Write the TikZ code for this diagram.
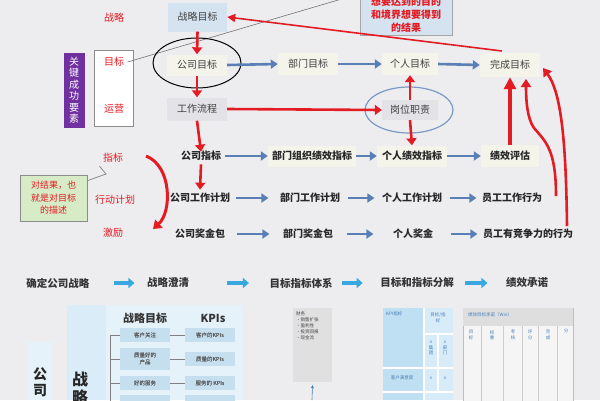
\documentclass[tikz,border=0pt]{standalone}
\usepackage{fontspec}
\setmainfont{Noto Sans CJK SC}
\usetikzlibrary{arrows.meta,shapes.geometric}
\definecolor{bg}{HTML}{EDEDF0}
\definecolor{rd}{HTML}{E31B23}
\definecolor{bl}{HTML}{5A7FB5}
\definecolor{boxf}{HTML}{F4F4EA}
\definecolor{grayf}{HTML}{E3E3E7}
\definecolor{lblue}{HTML}{D5E3F1}
\definecolor{purp}{HTML}{7030A0}
\definecolor{cy}{HTML}{3AA8E0}
\definecolor{gfill}{HTML}{D6EBC6}
\definecolor{pan}{HTML}{D9ECF8}
\definecolor{pan2}{HTML}{E5F2FA}
\definecolor{cell}{HTML}{C6DFEF}
\definecolor{tb}{HTML}{BFDFF2}
\definecolor{tb2}{HTML}{D7ECF8}
\definecolor{tinyc}{HTML}{4A7FB8}
\tikzset{
  f10/.style={font=\fontsize{10}{12}\selectfont},
  box/.style={fill=boxf, minimum height=22pt, inner xsep=4pt, f10, text=black!75},
  rtxt/.style={text=rd, f10},
  btxt/.style={font=\bfseries\fontsize{10}{12}\selectfont, text=black!85},
  rarr/.style={draw=rd, line width=2.6pt, -{Triangle[length=7pt,width=10pt]}},
  barr/.style={draw=bl, line width=2.6pt, -{Triangle[length=7pt,width=9pt]}},
  carr/.style={draw=cy, line width=4pt, -{Triangle[length=6pt,width=10pt]}},
  flow/.style={font=\bfseries\fontsize{10.5}{12}\selectfont, text=black!80},
  kcell/.style={fill=cell, inner sep=1pt, font=\fontsize{5.5}{7}\selectfont, text=black!70, align=center},
  tiny/.style={font=\fontsize{4.5}{5.5}\selectfont, text=tinyc, align=center, inner sep=0pt},
}
\begin{document}
\begin{tikzpicture}[x=1pt,y=-1pt]
\useasboundingbox (0,0) rectangle (600,400);
\clip (0,0) rectangle (600,400);
\fill[bg] (0,0) rectangle (600,400);

% ---------- top section ----------
\node[rtxt] (tzl) at (114,18) {战略};
\node[fill=purp, minimum width=21pt, minimum height=75pt, text=white, inner sep=0pt,
      font=\fontsize{10}{11.5}\selectfont, align=center] (gj) at (74,90) {关\\键\\成\\功\\要\\素};
\node[draw=black!45, fill=white, minimum width=39pt, minimum height=76pt, inner sep=0pt] (wbox) at (114,88) {};
\node[rtxt] (tmb) at (114,62) {目标};
\node[rtxt] (tyy) at (114,109) {运营};

% callout
\node[draw=black!35, fill=lblue, minimum width=92pt, minimum height=46pt, inner sep=0pt] (call) at (406,12) {};
\node[text=rd, font=\bfseries\fontsize{10}{13}\selectfont, align=center, inner sep=0pt] (callt) at (406,15) {想要达到的目的\\和境界想要得到\\的结果};
\coordinate (cl) at (362,-7);
\draw[black!55, line width=0.6pt] (tmb.east) -- (cl);

\node[box, fill=lblue, minimum width=59pt, minimum height=29pt] (zlmb) at (197.5,17) {战略目标};
\node[box, minimum width=60pt, minimum height=21pt] (gsmb) at (197,65) {公司目标};
\node[box, fill=grayf, minimum width=60pt, minimum height=23pt] (gzlc) at (197,109) {工作流程};
\node[box, minimum width=60pt] (bmmb) at (308,64) {部门目标};
\node[box, minimum width=56pt] (grmb) at (410,64) {个人目标};
\node[box, minimum width=60pt, minimum height=24pt] (wcmb) at (510,65) {完成目标};
\node[box, fill=grayf, minimum width=56pt, minimum height=20pt] (gwzz) at (410,110) {岗位职责};

\node[draw=black, line width=1pt, ellipse, minimum width=88pt, minimum height=50pt, inner sep=0pt] (el1) at (197,63) {};
\node[draw=bl!80, line width=1.2pt, ellipse, minimum width=88pt, minimum height=46pt, inner sep=0pt] (el2) at (409,110) {};

\coordinate (c1) at (502,51);
\draw[draw=rd, line width=1.6pt, -{Triangle[length=8pt,width=8pt]}] (c1) -- (zlmb.east);

\draw[rarr] (zlmb.south) -- (gsmb.north);
\draw[rarr] (gsmb.south) -- (gzlc.north);
\draw[barr] (gsmb.east) -- (bmmb.west);
\draw[barr] (bmmb.east) -- (grmb.west);
\draw[barr] (grmb.east) -- (wcmb.west);
\draw[rarr] (gzlc.east) -- (gwzz.west);
\draw[rarr] (gwzz.north) -- (grmb.south);

% ---------- middle rows ----------
\node[btxt] (gszb) at (201,156) {公司指标};
\node[box, btxt, minimum width=88pt, minimum height=21pt, inner xsep=1pt] (bmzz) at (312,156) {部门组织绩效指标};
\node[box, btxt, minimum width=70pt, minimum height=21pt, inner xsep=1pt] (grzb) at (412,156) {个人绩效指标};
\node[box, btxt, minimum width=58pt, minimum height=22pt] (jxpg) at (510,156) {绩效评估};

\node[btxt] (gsjh) at (200,198) {公司工作计划};
\node[btxt] (bmjh) at (310,198) {部门工作计划};
\node[btxt] (grjh) at (412,198) {个人工作计划};
\node[btxt] (ygxw) at (512,198) {员工工作行为};

\node[btxt] (gsjj) at (200,234) {公司奖金包};
\node[btxt] (bmjj) at (308,234) {部门奖金包};
\node[btxt] (grjj) at (413,234) {个人奖金};
\node[btxt] (ygjz) at (528,234) {员工有竞争力的行为};

\draw[rarr] (gzlc.south) -- ([yshift=-4pt]gszb.north);
\draw[rarr] (gwzz.south) -- (grzb.north);
\draw[rarr] (gszb.south) -- (gsjh.north);

\draw[barr] (gszb.east) -- (bmzz.west);
\draw[barr] (bmzz.east) -- (grzb.west);
\draw[barr] (grzb.east) -- (jxpg.west);
\draw[barr] ([xshift=2pt]gsjh.east) -- ([xshift=-8pt]bmjh.west);
\draw[barr] ([xshift=4pt]bmjh.east) -- ([xshift=-4pt]grjh.west);
\draw[barr] ([xshift=4pt]grjh.east) -- ([xshift=-2pt]ygxw.west);
\draw[barr] ([xshift=8pt]gsjj.east) -- ([xshift=-10pt]bmjj.west);
\draw[barr] ([xshift=10pt]bmjj.east) -- ([xshift=-16pt]grjj.west);
\draw[barr] ([xshift=14pt]grjj.east) -- ([xshift=-2pt]ygjz.west);

% left labels
\node[rtxt] (tzb) at (113,158) {指标};
\node[rtxt] (txd) at (115,200) {行动计划};
\node[rtxt] (tjl) at (113,233) {激励};
\node[draw=black!45, fill=gfill, minimum width=67pt, minimum height=46pt, inner sep=0pt] (gbox) at (53.5,198) {};
\node[text=rd, font=\fontsize{9}{12.5}\selectfont, align=center, inner sep=0pt] (gboxt) at (53.5,198) {对结果，也\\就是对目标\\的描述};
\coordinate (g1) at (106,174);
\draw[black!45, line width=0.8pt] (gbox.north east) ++(0,6) -- (g1) -- (tzb.south west);

\coordinate (k1) at (146,156);
\coordinate (k2) at (153,229);
\draw[draw=rd, line width=3pt, -{Triangle[length=8pt,width=11pt]}] (k1) .. controls (172,166) and (172,212) .. (k2);

% right red arrows
\draw[draw=rd, line width=4pt, -{Triangle[length=12pt,width=12pt]}] (jxpg.north) -- (wcmb.south);
\coordinate (r1) at (556,196);
\coordinate (r2) at (526,79);
\draw[draw=rd, line width=2.6pt, -{Triangle[length=8pt,width=10pt]}] (r1) .. controls (556,150) and (546,142) .. (534,128) .. controls (527,118) and (526,100) .. (r2);
\coordinate (r3) at (567,226);
\coordinate (r4) at (543,68);
\draw[draw=rd, line width=2.6pt, -{Triangle[length=8pt,width=10pt]}] (r3) .. controls (566,140) and (561,92) .. (r4);

% ---------- bottom flow ----------
\node[flow] (f1) at (58,283) {确定公司战略};
\node[flow] (f2) at (168,283) {战略澄清};
\node[flow] (f3) at (301,283) {目标指标体系};
\node[flow] (f4) at (417,283) {目标和指标分解};
\node[flow] (f5) at (527,283) {绩效承诺};
\draw[carr] ([xshift=21pt]f1.east) -- ([xshift=-9pt]f2.west);
\draw[carr] ([xshift=34pt]f2.east) -- ([xshift=-17pt]f3.west);
\draw[carr] ([xshift=6pt]f3.east) -- ([xshift=-14pt]f4.west);
\draw[carr] ([xshift=8pt]f4.east) -- ([xshift=-15pt]f5.west);

% ---------- bottom left panel ----------
\fill[pan2] (28,342) rectangle (52,400);
\node[font=\bfseries\fontsize{14}{16}\selectfont, text=black!85, align=center, inner sep=0pt] (gs) at (40,382) {公\\司};
\fill[pan] (67,305) rectangle (243,400);
\fill[pan2] (106,305) rectangle (243,400);
\node[font=\bfseries\fontsize{16}{18}\selectfont, text=black!85, align=center, inner sep=0pt] (zl) at (80,388) {战\\略};
\node[font=\bfseries\fontsize{11}{12}\selectfont, text=black!80] (hz) at (145,318) {战略目标};
\node[font=\bfseries\fontsize{11}{12}\selectfont, text=black!80] (hk) at (213,318) {KPIs};
\node[kcell, minimum width=50pt, minimum height=14pt] (k1a) at (145,335) {客户关注};
\node[kcell, minimum width=50pt, minimum height=22pt] (k2a) at (145,359) {质量好的\\产品};
\node[kcell, minimum width=50pt, minimum height=14pt] (k3a) at (145,383) {好的服务};
\node[kcell, minimum width=50pt, minimum height=14pt] (k4a) at (145,402) {};
\node[kcell, minimum width=50pt, minimum height=14pt] (k1b) at (210,335) {客户的KPIs};
\node[kcell, minimum width=50pt, minimum height=14pt] (k2b) at (210,359) {质量的KPIs};
\node[kcell, minimum width=50pt, minimum height=14pt] (k3b) at (210,383) {服务的 KPIs};
\node[kcell, minimum width=50pt, minimum height=14pt] (k4b) at (210,402) {};
\coordinate (tr) at (110,335);
\draw[black!50, line width=0.5pt] (tr) -- (110,402);
\foreach \n in {k1a,k2a,k3a,k4a} \draw[black!50, line width=0.5pt] (\n.west) -- (\n.west -| tr);
\draw[black!50, line width=0.5pt] (k1a) -- (k1b); \draw[black!50, line width=0.5pt] (k2a) -- (k2b); \draw[black!50, line width=0.5pt] (k3a) -- (k3b);
\foreach \n in {k1a,k2a,k3a,k1b,k2b,k3b} \node[kcell] at (\n) {};
\node[kcell, fill=none] at (k1a) {客户关注};
\node[kcell, fill=none] at (k2a) {质量好的\\产品};
\node[kcell, fill=none] at (k3a) {好的服务};
\node[kcell, fill=none] at (k1b) {客户的KPIs};
\node[kcell, fill=none] at (k2b) {质量的KPIs};
\node[kcell, fill=none] at (k3b) {服务的 KPIs};

% gray panel
\node[fill=black!12, minimum width=39pt, minimum height=74pt, inner sep=0pt] (gp) at (312.5,345) {};
\node[font=\fontsize{4.5}{6}\selectfont, text=black!75, align=left, anchor=north west, inner sep=0pt] (gpt) at (296,312) {财务\\•销售扩张\\•盈利性\\•投资回报\\•现金流};
\coordinate (ga) at (312,400);
\draw[tinyc, line width=0.6pt, -{Triangle[length=3pt,width=3pt]}] (ga) -- ([yshift=-3pt]gp.south);

% blue table
\fill[tb] (383,308) rectangle (424,368);
\fill[tb2] (424,308) rectangle (453,368);
\fill[tb] (383,368) rectangle (424,392);
\fill[tb2] (424,368) rectangle (453,392);
\fill[tb] (383,392) rectangle (424,400);
\fill[tb2] (424,392) rectangle (453,400);
\draw[white, line width=1.5pt] (424,308) -- (424,400) (424,334) -- (453,334) (438,334) -- (438,392) (383,368) -- (453,368) (383,392) -- (453,392);
\node[tiny, anchor=west] (t1) at (386,314) {KPI指标};
\node[tiny] (t2) at (438,318) {目标/指\\标};
\node[tiny] (t3) at (431,348) {x\\集\\团};
\node[tiny] (t4) at (445,348) {x\\部\\门};
\node[tiny] (t5) at (402,378) {\itshape 客户满意度};
\node[tiny] (t6) at (431,378) {x};
\node[tiny] (t7) at (445,378) {x};

% right table
\draw[black!25, fill=black!4] (463,308) rectangle (573,405);
\fill[black!13] (463,308) rectangle (573,326);
\node[tiny, anchor=west] (w1) at (468,315) {绩效目标承诺（Win）};
\foreach \x in {481,503,522,538,557} \draw[black!20, line width=0.4pt] (\x,326) -- (\x,405);
\node[tiny] (w2) at (471,335) {目\\标};
\node[tiny] (w3) at (492,335) {权\\重};
\node[tiny] (w4) at (513,335) {考\\核};
\node[tiny] (w5) at (530,335) {评\\分};
\node[tiny] (w6) at (548,335) {完\\成};
\node[tiny] (w7) at (566,331) {分};
\end{tikzpicture}
\end{document}
